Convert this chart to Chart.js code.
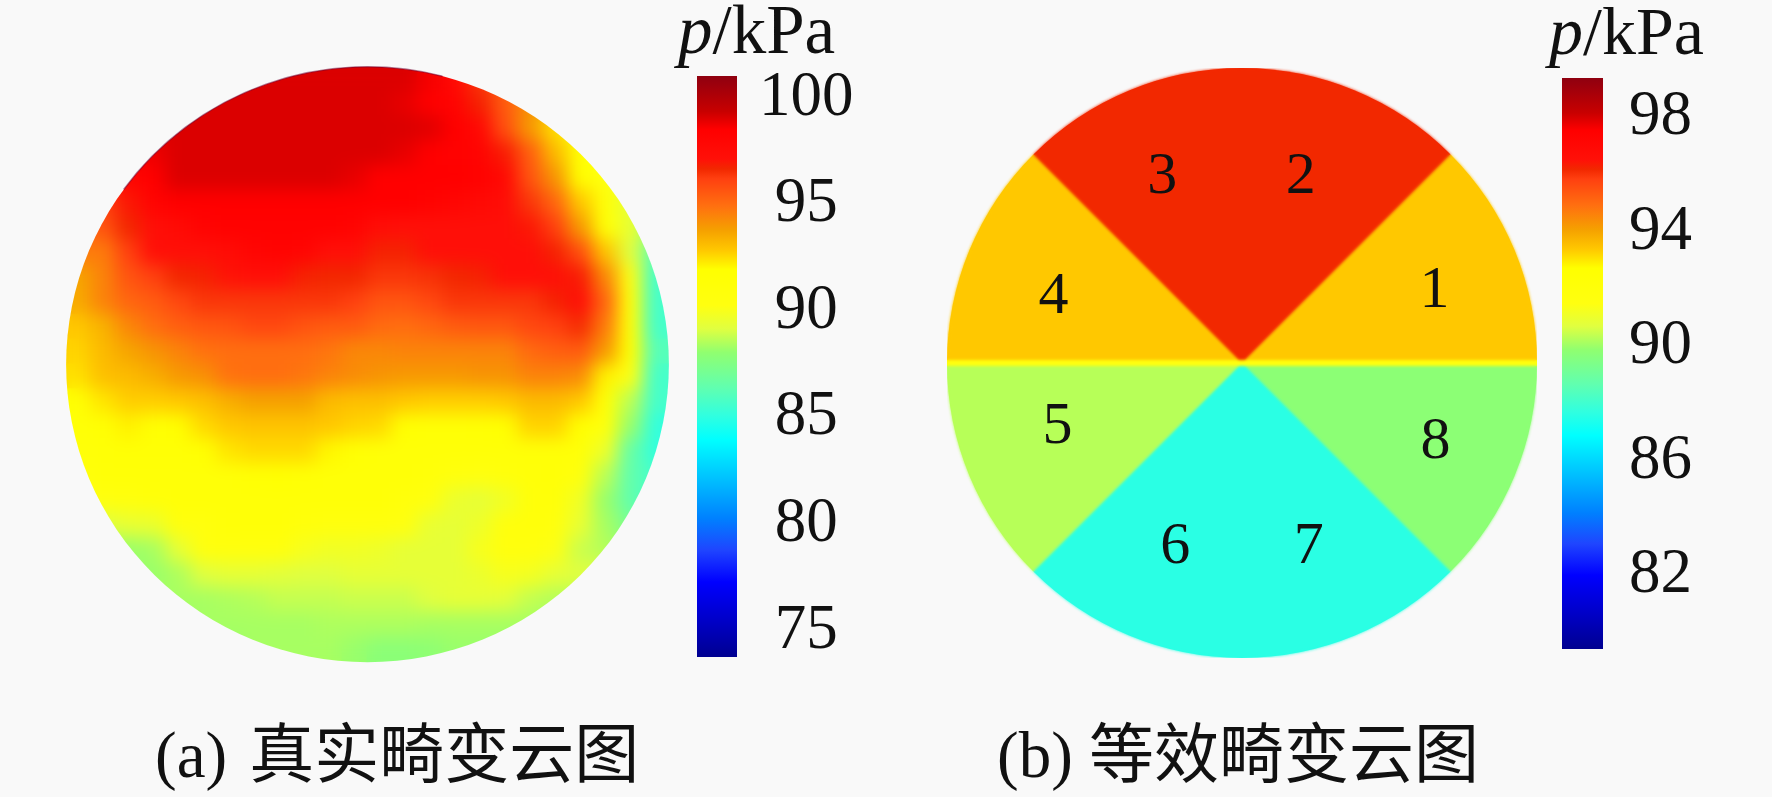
<!DOCTYPE html>
<html>
<head>
<meta charset="utf-8">
<title>畸变云图</title>
<script src="https://cdn.jsdelivr.net/npm/chart.js@4"></script>
<style>
  html, body { margin: 0; padding: 0; background: #f9f9f9; overflow: hidden; }
  body { width: 1772px; height: 797px; position: relative; font-family: "Liberation Serif", "Noto Sans CJK SC", serif; color: #111; }
  canvas { position: absolute; }
  .txt { position: absolute; white-space: nowrap; }
  .unit { line-height: 68px; font-size: 69px; }
  .caption { line-height: 65px; font-size: 65px; top: 723px; }
</style>
</head>
<body>
<canvas id="diskA" style="left:41px;top:42px;width:653px;height:645px"></canvas>
<canvas id="barA" style="left:697px;top:46px;width:180px;height:641px"></canvas>
<canvas id="diskB" style="left:947px;top:68px;width:590px;height:590px"></canvas>
<canvas id="barB" style="left:1562px;top:48px;width:170px;height:631px"></canvas>
<div class="txt unit" style="left:678px;top:-4px"><i>p</i>/kPa</div>
<div class="txt unit" style="left:1549px;top:-3px;font-size:68px"><i>p</i>/kPa</div>
<div class="txt caption" style="left:155px">(a)<span style="margin-left:22px">真实畸变云图</span></div>
<div class="txt caption" style="left:997px">(b) 等效畸变云图</div>
<script>
// colour scale (fraction from bottom of bar -> colour)
const colorFractions = [0, 0.054, 0.129, 0.184, 0.238, 0.306, 0.374, 0.415, 0.463, 0.524, 0.565, 0.605, 0.667, 0.70, 0.735, 0.776, 0.823, 0.84, 0.857, 0.908, 0.939, 1];
const colorHex = ['#000090', '#0000c0', '#0000ff', '#1f45ff', '#0080ff', '#00c0ff', '#00ffff', '#30ffe0', '#60ffb0', '#90ff70', '#e0ff40', '#ffff10', '#ffff00', '#ffc800', '#f5a000', '#ff7010', '#ff4010', '#f22800', '#ff1008', '#ff0000', '#c80000', '#8f0010'];

// colour bar (a)
const rangeA = [73.6, 100.85];
const ticksA = [75, 80, 85, 90, 95, 100];

// colour bar (b)
const rangeB = [79.3, 99.24];
const ticksB = [82, 86, 90, 94, 98];

// (b) equivalent distortion, clockwise from the east side
const sectorLabels = ['8', '7', '6', '5', '4', '3', '2', '1'];
const sectorPressure = [89.65, 87.48, 87.48, 90.15, 93.26, 96.05, 96.05, 93.26];
const sectorSpan = [45, 45, 45, 45, 45, 45, 45, 45];

const pressureGrid = [
  [98.9,98.9,98.9,98.9,98.9,98.9,98.9,98.9,98.9,98.9,98.9,98.9,98.9,98.9,98.5,97.5,96.2,95.2,94,93,92,91,91,91],
  [98.9,98.9,98.9,98.9,98.9,98.9,98.9,98.9,98.9,98.9,98.9,98.9,98.9,98.7,98.3,98,96.6,95.3,94,93,92,91,91,91],
  [98.9,98.9,98.9,98.9,98.9,98.9,98.9,98.9,98.9,98.9,98.9,98.9,98.9,98.9,98.8,98.3,97.6,95.6,93.8,92.3,91.5,91,91,90.5],
  [98.5,98.5,98.5,98.6,98.9,98.9,98.9,98.9,98.9,98.9,98.9,98.9,98.9,98.7,98.3,98.2,98,96.7,95.2,93,91.5,90.5,90,89.5],
  [97.5,97.5,97.8,98.3,98.9,98.9,98.9,98.9,98.9,98.9,98.9,98.7,98.3,98.3,98.3,98.3,98.2,97.6,95.5,93.9,91.8,90.2,89.5,89],
  [96,96,96.8,98,98.3,98.3,98.3,98.3,98.3,98.3,98.3,98.3,98.3,98.3,98.1,97.8,97.5,97.2,96.2,95,92.7,91,89.2,88.5],
  [95,95.5,96.5,97,97.4,98,98.2,98.2,98.2,98.2,98.2,98,97.2,97,97,97,97,97,96.8,96,93.8,91.3,89.3,88],
  [94.5,94.5,96,97,97,97,97.3,97.8,98,97.9,97,97,96.6,96.6,97,97,97,97,97,96.6,95.6,92.8,89,86],
  [93.5,94.3,95.5,96,96.5,96.6,96.9,97,97,96.6,96.5,96.5,96.2,96.2,96.3,96.5,96.6,97,97,97,96.7,94.2,90,85.5],
  [93.4,94.3,95,95.3,95.8,96.2,96.2,96.2,96.2,96.2,96.2,96,95.5,95.5,95.8,96.2,96.2,96.2,96.2,96.6,97,95,90.8,85.5],
  [92.7,93.2,94.2,94.8,95.2,95.4,95.5,95.8,95.8,95.5,95.3,95.3,94.9,94.8,95,95.3,95.4,95.4,95.8,96,96.4,94.5,91,85.5],
  [92.5,93,93.5,93.9,94.3,94.7,94.8,94.8,94.8,94.8,94.6,94.2,94.2,94.3,94.3,94.3,94.3,94.3,94.9,95.2,95.3,93.8,91.5,86],
  [92.3,92.9,93,93.3,93.8,94,94.7,94.8,94.8,94.6,94.3,94.1,93.9,93.8,93.8,93.8,93.9,93.9,94.3,94.3,94.1,92,90,85.5],
  [91.5,92.2,92.6,92.6,92.7,92.9,93.3,93.6,93.6,93.6,93,92.9,92.9,92.7,92.6,92.6,92.6,92.7,93,93,92.7,91.3,88.5,85.5],
  [91,91.5,92,91.5,91.8,92.4,92.7,92.8,92.8,92.8,92.7,92.5,92.4,91.6,91.2,91.2,91.4,91.7,92.5,92.5,91.7,90.6,88,85],
  [90.8,91.1,91.2,91.2,91.2,91.6,92.2,92.4,92.4,92.4,91.9,91.5,91,91,91,91,91,91,91,91,91,89.5,86.5,85],
  [90.5,91,91,91,91,91,91,91.4,91.6,91.3,91,91,91,91,90.8,90.4,90.2,90.6,90.9,91,90.4,88.5,86.3,85.5],
  [90,90.3,90.4,90.8,91,91,91,91,91,91,91,91,91,90.6,90.3,89.4,89.2,89.6,90.8,90.8,89.6,88,86.3,85.5],
  [89,89,89.3,89.4,90.4,90.4,90.9,91,91,90.6,90.4,90.4,90.4,90.2,89.3,89.2,89.5,90.4,90.8,90.4,89.3,88.2,87,87],
  [88,88,88,88.2,89.2,90.3,90.4,90.4,90.4,89.8,89.6,89.6,89.5,89.2,89.2,89.2,89.8,90.4,90.4,90,88.7,88.4,88,88],
  [88,88,88,88,88.3,89,89.2,89.2,89.1,89,89,89.2,89.2,89.2,89.2,89.2,89.4,89.8,89.7,89.2,89,89,89,89],
  [88.2,88.2,88.2,88.2,88.2,88.2,88.3,88.4,88.6,88.6,88.6,88.7,88.7,88.7,89,89.2,89.2,89.1,88.6,88.4,88.4,88.4,88.4,88.4],
  [88,88,88,88,88,88.2,88.2,88.2,88.2,88.2,88.3,88.3,88.3,88.3,88.2,88.2,88.2,88.2,88.2,88,88,88,88,88],
  [88,88,88,88,88,88,88,88.2,88.2,88.2,88.2,88,87.7,87.7,87.8,88,88,88,88,88,88,88,88,88]
];

const serif = 'Liberation Serif';

function hexToRgb(h) {
  return [1, 3, 5].map(i => parseInt(h.slice(i, i + 2), 16));
}

// fraction 0..1 on the bar -> colour
function colorAt(f) {
  f = Math.min(1, Math.max(0, f));
  let i = 0;
  while (i < colorFractions.length - 2 && f > colorFractions[i + 1]) i++;
  const t = (f - colorFractions[i]) / (colorFractions[i + 1] - colorFractions[i]);
  const a = hexToRgb(colorHex[i]), b = hexToRgb(colorHex[i + 1]);
  return 'rgb(' + a.map((v, k) => Math.round(v + (b[k] - v) * t)).join(',') + ')';
}

function pressureColor(p, range) {
  return colorAt((p - range[0]) / (range[1] - range[0]));
}

function sizeCanvas(id) {
  const c = document.getElementById(id);
  c.width = parseInt(c.style.width);
  c.height = parseInt(c.style.height);
  return c;
}

const baseOptions = {
  responsive: false,
  animation: false,
  events: [],
  devicePixelRatio: 1,
  plugins: { legend: { display: false }, tooltip: { enabled: false } }
};

// smooth the cells and cut them to the disk
const diskPlugin = {
  id: 'diskPlugin',
  afterDatasetsDraw(chart) {
    const { ctx, scales: { x, y } } = chart;
    const cx = x.getPixelForValue(11.5), cy = y.getPixelForValue(11.5);
    const rx = Math.abs(x.getPixelForValue(23.5) - cx), ry = Math.abs(y.getPixelForValue(23.5) - cy);
    ctx.save();
    ctx.filter = 'blur(9px)';
    ctx.drawImage(ctx.canvas, 0, 0, chart.width, chart.height);
    ctx.filter = 'none';
    ctx.globalCompositeOperation = 'destination-in';
    ctx.beginPath();
    ctx.ellipse(cx, cy, rx, ry, 0, 0, Math.PI * 2);
    ctx.fill();
    ctx.globalCompositeOperation = 'source-over';
    // dark thin rim on the upper left, as in the source picture
    ctx.strokeStyle = 'rgba(110,0,50,0.5)';
    ctx.lineWidth = 1.5;
    ctx.beginPath();
    ctx.ellipse(cx, cy, rx, ry, 0, Math.PI * 1.2, Math.PI * 1.58);
    ctx.stroke();
    ctx.restore();
  }
};

const cells = [];
const cellColors = [];
pressureGrid.forEach((row, j) => row.forEach((p, i) => {
  cells.push({ x: i, y: j });
  cellColors.push(pressureColor(p, rangeA));
}));

new Chart(sizeCanvas('diskA'), {
  type: 'scatter',
  data: {
    datasets: [{
      data: cells,
      pointStyle: 'rect',
      pointRadius: 19,
      pointBorderWidth: 0,
      pointBackgroundColor: cellColors,
      clip: false
    }]
  },
  options: {
    ...baseOptions,
    layout: { padding: 0, autoPadding: false },
    scales: {
      x: { display: false, min: -1.5, max: 24.5 },
      y: { display: false, min: -1.5, max: 24.5, reverse: true }
    }
  },
  plugins: [diskPlugin]
});

// small shifts of the hand placed sector numbers, same order as sectorLabels
const numberNudge = [[11, 4], [-9, 2], [9, 2], [-2, -11], [-6, 10], [-4, -3], [-17, -3], [10, 4]];

// yellow seam across the middle, light blur, then numbers on the sectors
const sectorNumbers = {
  id: 'sectorNumbers',
  afterDatasetsDraw(chart) {
    const { ctx } = chart;
    const arcs = chart.getDatasetMeta(0).data;
    const first = arcs[0].getProps(['x', 'y', 'outerRadius']);
    ctx.save();
    ctx.fillStyle = pressureColor(91.5, rangeB);
    ctx.fillRect(first.x - first.outerRadius, first.y - 3, first.outerRadius * 2, 6);
    ctx.filter = 'blur(1.5px)';
    ctx.drawImage(ctx.canvas, 0, 0, chart.width, chart.height);
    ctx.filter = 'none';
    ctx.font = '60px "' + serif + '"';
    ctx.fillStyle = '#111';
    ctx.textAlign = 'center';
    ctx.textBaseline = 'middle';
    arcs.forEach((arc, i) => {
      const p = arc.getProps(['x', 'y', 'startAngle', 'endAngle', 'outerRadius']);
      const mid = (p.startAngle + p.endAngle) / 2;
      ctx.fillText(sectorLabels[i],
        p.x + Math.cos(mid) * p.outerRadius * 0.67 + numberNudge[i][0],
        p.y + Math.sin(mid) * p.outerRadius * 0.67 + numberNudge[i][1]);
    });
    ctx.restore();
  }
};

new Chart(sizeCanvas('diskB'), {
  type: 'pie',
  data: {
    labels: sectorLabels,
    datasets: [{
      data: sectorSpan,
      backgroundColor: sectorPressure.map(p => pressureColor(p, rangeB)),
      borderWidth: 0
    }]
  },
  options: { ...baseOptions, rotation: 90, layout: { padding: 0 } },
  plugins: [sectorNumbers]
});

function colorBar(id, range, tickValues, tickPadding, axisWidth) {
  new Chart(sizeCanvas(id), {
    type: 'bar',
    data: {
      labels: ['p'],
      datasets: [{
        data: [range],
        barPercentage: 1,
        categoryPercentage: 1,
        backgroundColor(context) {
          const area = context.chart.chartArea;
          if (!area) return '#000';
          const g = context.chart.ctx.createLinearGradient(0, area.bottom, 0, area.top);
          colorFractions.forEach((f, i) => g.addColorStop(f, colorHex[i]));
          return g;
        }
      }]
    },
    options: {
      ...baseOptions,
      layout: { padding: { top: 30, bottom: 30 } },
      scales: {
        x: { display: false },
        y: {
          position: 'right',
          min: range[0],
          max: range[1],
          afterBuildTicks(scale) { scale.ticks = tickValues.map(v => ({ value: v })); },
          afterFit(scale) {
            scale.width = axisWidth;
            scale.paddingTop = 0;
            scale.paddingBottom = 0;
            // the digits sit a little low against the value in the source picture
            if (!scale.labelsShifted) {
              const drawLabels = scale.drawLabels.bind(scale);
              scale.drawLabels = area => {
                scale.ctx.save();
                scale.ctx.translate(0, 4);
                drawLabels(area);
                scale.ctx.restore();
              };
              scale.labelsShifted = true;
            }
          },
          grid: { display: false, drawTicks: false },
          border: { display: false },
          ticks: {
            crossAlign: 'center',
            padding: tickPadding,
            color: '#111',
            autoSkip: false,
            font: { family: serif, size: 63 }
          }
        }
      }
    }
  });
}

colorBar('barA', rangeA, ticksA, 22, 140);
colorBar('barB', rangeB, ticksB, 26, 129);
</script>
</body>
</html>
